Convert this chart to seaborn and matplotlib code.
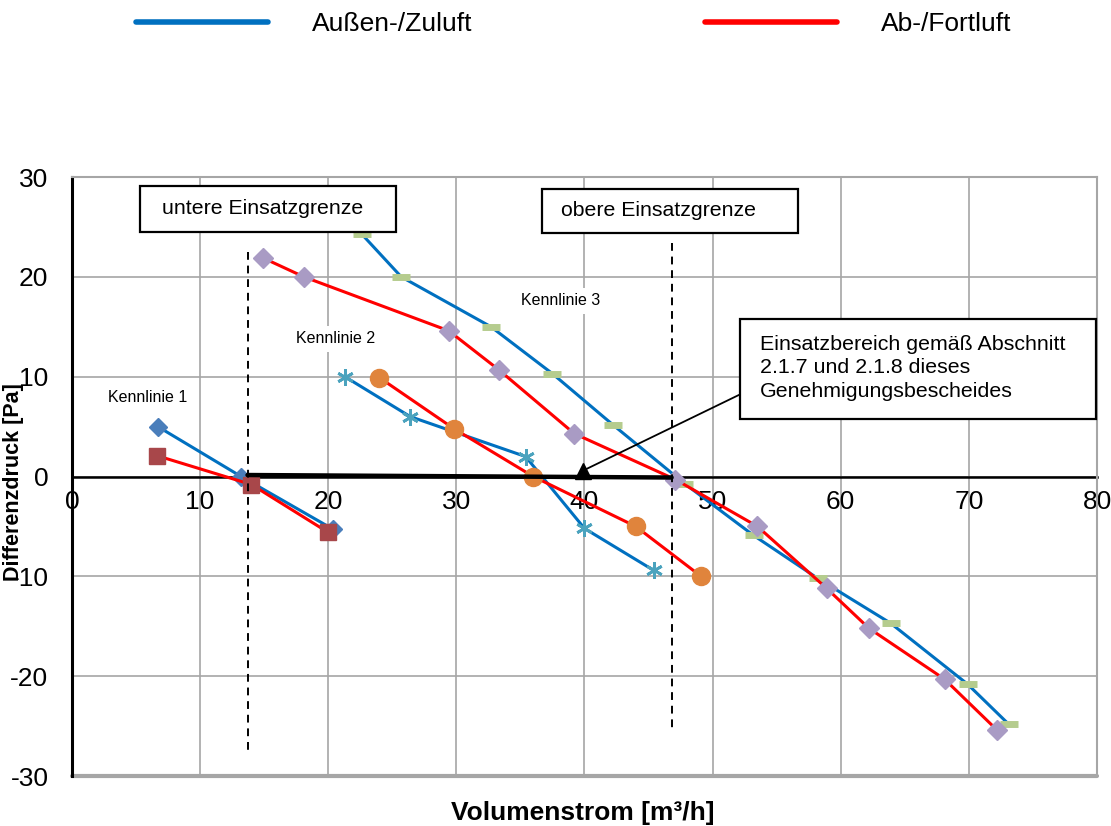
import matplotlib
matplotlib.use("Agg")
import matplotlib.pyplot as plt
from matplotlib.patches import Rectangle
from matplotlib.lines import Line2D
import numpy as np
import pandas as pd
import seaborn as sns

sns.set_style("white")
plt.rcParams.update({'font.family'       : ['Liberation Sans', 'DejaVu Sans'],
                     'font.size'         : 16,
                     'text.color'        : 'black',
                     'axes.labelcolor'   : 'black',
                     'xtick.color'       : 'black',
                     'ytick.color'       : 'black',
                     'xtick.labelsize'   : 19,
                     'ytick.labelsize'   : 19,
                     'axes.unicode_minus': False})

# Kennlinie 1
k1_zu_x = [6.7, 13.2, 20.4]
k1_zu_y = [5.0, 0.0, -5.3]
k1_ab_x = [6.6, 14.0, 20.0]
k1_ab_y = [2.1, -0.8, -5.6]
# Kennlinie 2
k2_zu_x = [21.3, 26.4, 35.4, 40.0, 45.4]
k2_zu_y = [10.0, 6.0, 2.0, -5.2, -9.4]
k2_ab_x = [24.0, 29.8, 36.0, 44.0, 49.1]
k2_ab_y = [9.9, 4.8, 0.0, -5.0, -10.0]
# Kennlinie 3
k3_zu_x = [22.6, 25.7, 32.7, 37.5, 42.2, 47.8, 53.2, 58.2, 63.9, 69.9, 73.1]
k3_zu_y = [24.3, 20.0, 15.0, 10.3, 5.2, -0.7, -5.9, -10.2, -14.7, -20.8, -24.8]
k3_ab_x = [14.9, 18.1, 29.4, 33.3, 39.2, 47.1, 53.5, 58.9, 62.2, 68.1, 72.2]
k3_ab_y = [21.9, 20.0, 14.6, 10.7, 4.3, -0.3, -5.0, -11.2, -15.2, -20.3, -25.4]

# Einsatzgrenzen
grenze_unten = 13.7
grenze_oben = 46.8
bereich_x = [13.7, 46.8]
bereich_y = [0.15, -0.1]

BLUE = '#0070C0'
RED = '#FF0000'

fig = plt.figure(figsize=(11.11, 8.26), dpi=100)
ax = fig.add_axes([0.0648, 0.0605, 0.9226, 0.7252])

series = [
    (k1_zu_x, k1_zu_y, BLUE, 'D', '#4A7EBB', 9, 1),
    (k1_ab_x, k1_ab_y, RED, 's', '#A8474A', 12, 1),
    (k2_zu_x, k2_zu_y, BLUE, (6, 2, 0), '#4BA3BE', 12, 2),
    (k2_ab_x, k2_ab_y, RED, 'o', '#E0843C', 13, 1),
    (k3_zu_x, k3_zu_y, BLUE, '_', '#B5CC8E', 13, 5),
    (k3_ab_x, k3_ab_y, RED, 'D', '#A99BC4', 10, 1),
]
for xs, ys, col, mk, mcol, ms, mew in series:
    df = pd.DataFrame({'x': xs, 'y': ys})
    sns.lineplot(data=df, x='x', y='y', ax=ax, sort=False, estimator=None,
                 color=col, lw=2.2, marker=mk, markersize=ms,
                 markerfacecolor=mcol, markeredgecolor=mcol, markeredgewidth=mew,
                 zorder=3)

# dashed limits
ax.plot([grenze_unten, grenze_unten], [22.5, -27.4], color='black', ls=(0, (4, 3)), lw=1.4, zorder=4)
ax.plot([grenze_oben, grenze_oben], [23.4, -25.2], color='black', ls=(0, (4, 3)), lw=1.4, zorder=4)
ax.plot(bereich_x, bereich_y, color='black', lw=3.2, zorder=5)

ax.set_xlim(0, 80)
ax.set_ylim(-30, 30)
ax.set_xticks(np.arange(0, 81, 10))
ax.set_yticks(np.arange(-30, 31, 10))
ax.grid(True, color='#A6A6A6', lw=1.2)
ax.set_axisbelow(True)
ax.tick_params(axis='both', length=0)
ax.tick_params(axis='y', pad=17)
ax.tick_params(axis='x', pad=10)
ax.spines['bottom'].set_position(('data', 0))
ax.spines['bottom'].set_linewidth(1.8)
ax.spines['bottom'].set_color('black')
ax.spines['bottom'].set_zorder(2)
ax.spines['left'].set_linewidth(2.2)
ax.spines['left'].set_color('black')
for s in ['top', 'right']:
    ax.spines[s].set_color('#A6A6A6')
    ax.spines[s].set_linewidth(1.5)
# bottom frame line
ax.axhline(-30, color='#A6A6A6', lw=3, clip_on=False)

ax.set_xlabel('Volumenstrom [m³/h]', fontweight='bold', fontsize=19)
ax.set_ylabel('Differenzdruck [Pa]', fontweight='bold', fontsize=15.5)
ax.xaxis.set_label_coords(0.498, -0.042)
ax.yaxis.set_label_coords(-0.047, 0.49)

# boxes
boxes = [
    (5.3, 24.5, 20.0, 4.6, 7.0, 'untere Einsatzgrenze'),
    (36.7, 24.4, 20.0, 4.4, 38.2, 'obere Einsatzgrenze'),
]
for bx, by, bw, bh, tx, txt in boxes:
    ax.add_patch(Rectangle((bx, by), bw, bh, facecolor='white', edgecolor='black', lw=1.6, zorder=6))
    ax.text(tx, by + bh / 2, txt, fontsize=15.3, va='center', ha='left', zorder=7)
ax.add_patch(Rectangle((52.1, 5.8), 27.8, 10.0, facecolor='white', edgecolor='black',
                       lw=1.6, zorder=6, clip_on=False))
ax.text(53.7, 10.9, 'Einsatzbereich gemäß Abschnitt\n2.1.7 und 2.1.8 dieses\nGenehmigungsbescheides',
        fontsize=15.4, va='center', ha='left', linespacing=1.3, zorder=7)

# arrow
ax.plot([52.1, 39.9], [8.2, 0.6], color='black', lw=1.3, zorder=6)
ax.plot([39.9], [0.55], marker='^', color='black', markersize=12, zorder=6)

# Kennlinie labels
for lx, ly, lt in [(5.9, 7.9, 'Kennlinie 1'), (20.6, 13.8, 'Kennlinie 2'), (38.1, 17.6, 'Kennlinie 3')]:
    ax.text(lx, ly, lt, fontsize=11.5, ha='center', va='center', zorder=4,
            bbox=dict(facecolor='white', edgecolor='none', pad=4))

# legend
handles = [Line2D([], [], color=BLUE, lw=4), Line2D([], [], color=RED, lw=4)]
fig.legend(handles, ['Außen-/Zuluft', 'Ab-/Fortluft'], loc='center',
           bbox_to_anchor=(574 / 1111, 1 - 24 / 826), ncol=2, frameon=False,
           handlelength=5.0, handletextpad=1.67, columnspacing=8.8, fontsize=19)

fig.savefig('out.png', dpi=100)
